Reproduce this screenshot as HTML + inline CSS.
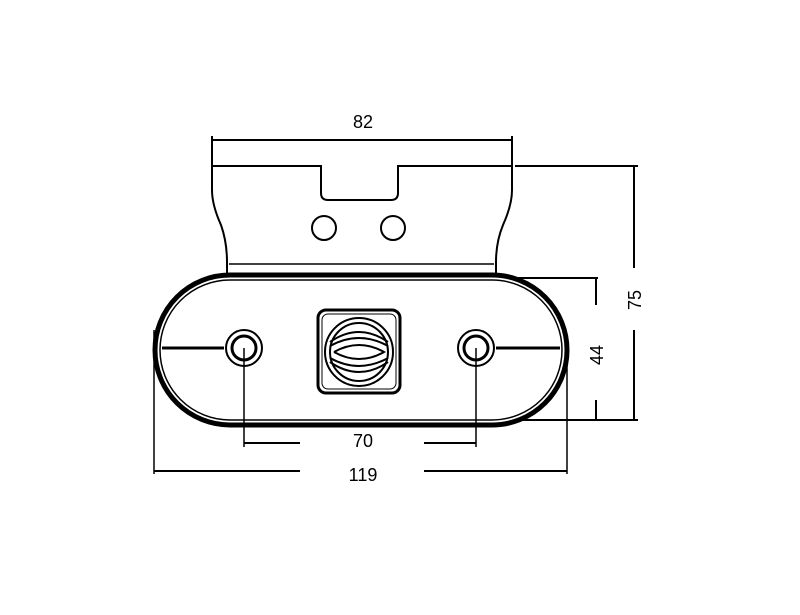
<!DOCTYPE html><html><head><style>body{margin:0;background:#fff}svg{display:block}</style></head><body>
<svg width="800" height="615" viewBox="0 0 800 615" xmlns="http://www.w3.org/2000/svg" font-family="Liberation Sans, sans-serif">
<rect width="800" height="615" fill="#fff"/>
<g fill="none" stroke="#000" stroke-width="2">
<!-- bracket -->
<path d="M212 166 H321 V193 Q321 200 328 200 H391 Q398 200 398 193 V166 H512 V190 Q512 205 503 225 Q496 242 496 262 V275 M212 166 V190 Q212 205 221 225 Q227 242 227 262 V275"/>
<line x1="229" y1="264" x2="494" y2="264" stroke-width="1.5"/>
<circle cx="324" cy="228" r="12"/><circle cx="393" cy="228" r="12"/>
<!-- oval -->
<rect x="155" y="275" width="412" height="150" rx="75" stroke-width="5"/>
<rect x="160" y="280" width="402" height="140" rx="70" stroke-width="1.5"/>
<!-- holes -->
<circle cx="244" cy="348" r="18"/><circle cx="244" cy="348" r="12" stroke-width="3"/>
<circle cx="476" cy="348" r="18"/><circle cx="476" cy="348" r="12" stroke-width="3"/>
<line x1="162" y1="348" x2="224" y2="348" stroke-width="3"/>
<line x1="496" y1="348" x2="560" y2="348" stroke-width="3"/>
<!-- lamp -->
<rect x="318" y="310" width="82" height="83" rx="8" stroke-width="3"/>
<rect x="322" y="314" width="74" height="75" rx="6" stroke-width="1"/>
<circle cx="359" cy="352" r="34"/><circle cx="359" cy="352" r="29"/>
<path d="M330 342 Q359 322 388 342 M330 346 Q359 330 388 346 M330 362 Q359 382 388 362 M330 358 Q359 374 388 358 M334 352 Q359 338 384 352 Q359 366 334 352"/>
<!-- dims -->
<line x1="212" y1="166" x2="212" y2="136"/><line x1="512" y1="166" x2="512" y2="136"/>
<line x1="212" y1="140" x2="512" y2="140"/>
<line x1="515" y1="166" x2="638" y2="166"/>
<line x1="634" y1="166" x2="634" y2="268"/><line x1="634" y1="330" x2="634" y2="420"/>
<line x1="520" y1="420" x2="638" y2="420"/>
<line x1="515" y1="278" x2="598" y2="278"/>
<line x1="596" y1="278" x2="596" y2="305"/><line x1="596" y1="400" x2="596" y2="420"/>
<line x1="567" y1="355" x2="567" y2="474" stroke-width="1.5"/>
<line x1="154" y1="330" x2="154" y2="474" stroke-width="1.5"/>
<line x1="244" y1="348" x2="244" y2="447" stroke-width="1.5"/>
<line x1="476" y1="348" x2="476" y2="447" stroke-width="1.5"/>
<line x1="244" y1="443" x2="300" y2="443"/><line x1="424" y1="443" x2="476" y2="443"/>
<line x1="154" y1="471" x2="300" y2="471"/><line x1="424" y1="471" x2="567" y2="471"/>
</g>
<g font-size="18" fill="#000" text-anchor="middle">
<text x="363" y="128">82</text>
<text x="363" y="447">70</text>
<text x="363" y="481">119</text>
<text transform="translate(641,300) rotate(-90)">75</text>
<text transform="translate(603,355) rotate(-90)">44</text>
</g>
</svg></body></html>
